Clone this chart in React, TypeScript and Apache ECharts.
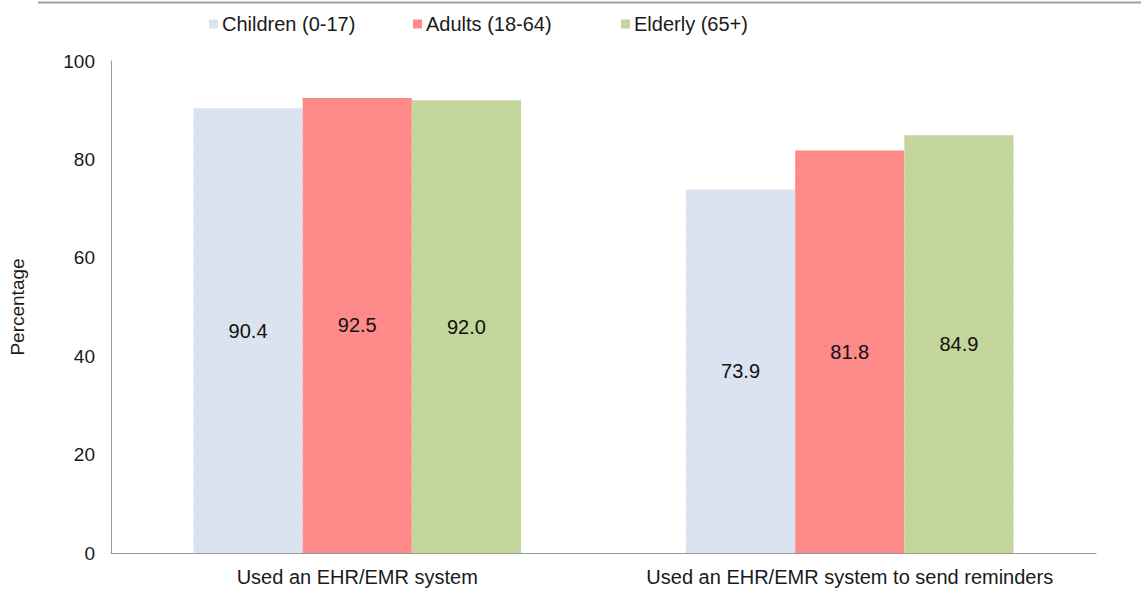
import React, { useEffect, useRef } from "react";
import * as echarts from "echarts";

const categories = ["Used an EHR/EMR system", "Used an EHR/EMR system to send reminders"];
const seriesNames = ["Children (0-17)", "Adults (18-64)", "Elderly (65+)"];
const children = [90.4, 73.9];
const adults = [92.5, 81.8];
const elderly = [92.0, 84.9];
const yTicks = { min: 0, max: 100, interval: 20 };

const colors = ["#dbe3f0", "#ff8a8a", "#c3d69b"];
const dotColors = ["rgba(150,170,200,0.45)", "rgba(215,70,70,0.55)", "rgba(150,175,100,0.55)"];
const legendLeft = [204, 408, 616];

export default function App() {
  const ref = useRef<HTMLDivElement>(null);

  useEffect(() => {
    if (!ref.current) return;
    const chart = echarts.init(ref.current, null, { renderer: "svg" });
    const values = [children, adults, elderly];
    const font = "'Liberation Sans', Arial, sans-serif";

    chart.setOption({
      animation: false,
      backgroundColor: "#ffffff",
      textStyle: { fontFamily: font },
      aria: { enabled: false, decal: { show: true } },
      legend: seriesNames.map((name, i) => ({
        data: [name],
        left: legendLeft[i],
        top: 9,
        itemWidth: 9,
        itemHeight: 9,
        itemGap: 0,
        icon: "rect",
        textStyle: { fontSize: 20, color: "#1a1a1a", fontFamily: font, padding: [0, 0, 0, -1] },
      })),
      grid: { left: 108, right: 45, top: 61, bottom: 38 },
      xAxis: {
        type: "category",
        data: categories,
        axisLine: { lineStyle: { color: "#9a9a9a", width: 1 } },
        axisTick: { show: false },
        axisLabel: { interval: 0, fontSize: 20, color: "#1a1a1a", margin: 14, fontFamily: font },
      },
      yAxis: {
        type: "value",
        min: yTicks.min,
        max: yTicks.max,
        interval: yTicks.interval,
        name: "Percentage",
        nameLocation: "middle",
        nameGap: 84,
        nameRotate: 90,
        nameTextStyle: { fontSize: 19, color: "#1a1a1a", fontFamily: font },
        axisLine: { show: true, lineStyle: { color: "#9a9a9a", width: 1 } },
        axisTick: { show: false },
        splitLine: { show: false },
        axisLabel: { fontSize: 19, color: "#1a1a1a", margin: 16, fontFamily: font },
      },
      series: seriesNames.map((name, i) => ({
        name,
        type: "bar",
        data: values[i],
        barGap: "0%",
        barCategoryGap: "33.5%",
        itemStyle: {
          color: colors[i],
          decal: {
            symbol: "circle",
            symbolSize: 0.3,
            dashArrayX: [[4, 4], [0, 4, 4, 0]],
            dashArrayY: [4, 4],
            color: dotColors[i],
            rotation: 0,
          },
        },
        label: {
          show: true,
          position: "inside",
          fontSize: 20,
          color: "#111111",
          fontFamily: font,
          formatter: (p: any) => Number(p.value).toFixed(1),
        },
      })),
      graphic: [
        {
          type: "line",
          shape: { x1: 38, y1: 2.5, x2: 1141, y2: 2.5 },
          style: { stroke: "#a0a0a0", lineWidth: 2 },
        },
      ],
    });

    return () => chart.dispose();
  }, []);

  return (
    <div
      ref={ref}
      style={{ position: "fixed", left: 0, top: 0, width: 1141, height: 591 }}
    />
  );
}
